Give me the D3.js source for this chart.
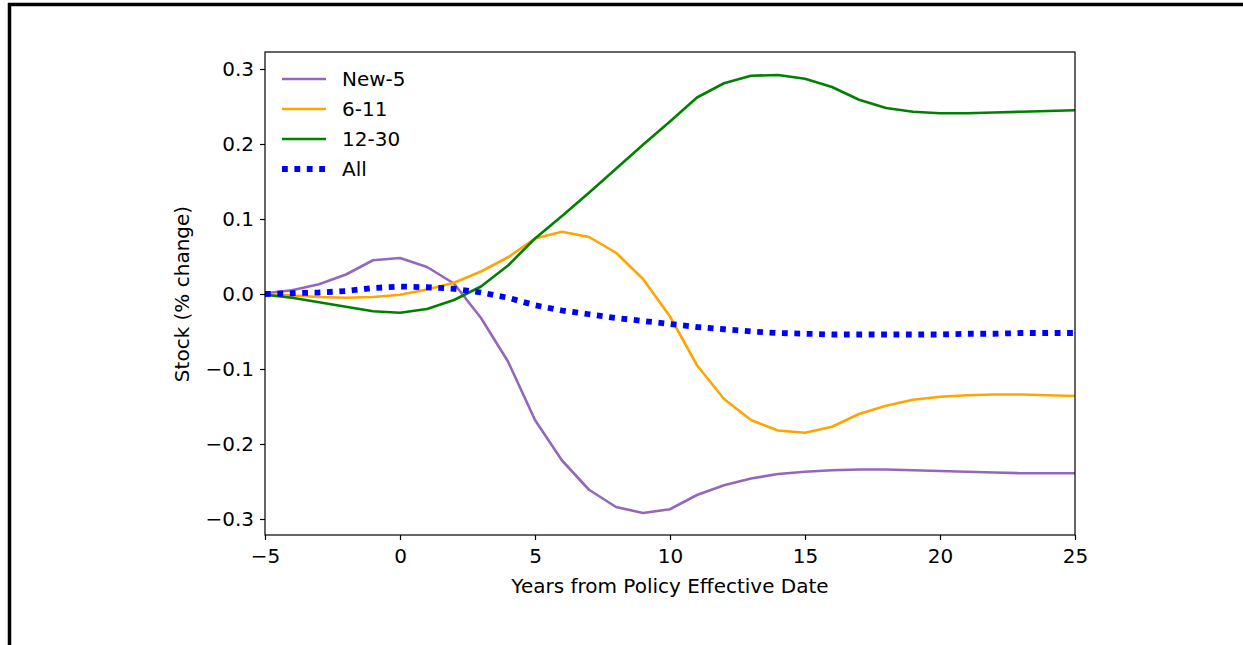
<!DOCTYPE html>
<html>
<head>
<meta charset="utf-8">
<script src="https://cdn.jsdelivr.net/npm/d3@7"></script>
<style>
  html, body { margin: 0; padding: 0; background: #fff; }
  svg { display: block; }
  text { font-family: "DejaVu Sans", sans-serif; }
</style>
</head>
<body>
<svg id="chart" width="1243" height="645"></svg>
<script>
const years = d3.range(-5, 26);
const new5 = [0.001, 0.005, 0.013, 0.026, 0.045, 0.048, 0.036, 0.014, -0.032, -0.090, -0.168, -0.222, -0.261, -0.284, -0.292, -0.287, -0.268, -0.255, -0.246, -0.240, -0.237, -0.235, -0.234, -0.234, -0.235, -0.236, -0.237, -0.238, -0.239, -0.239, -0.239];
const mid611 = [0.000, -0.002, -0.004, -0.005, -0.004, -0.001, 0.006, 0.015, 0.030, 0.049, 0.074, 0.083, 0.076, 0.055, 0.020, -0.030, -0.095, -0.140, -0.168, -0.182, -0.185, -0.177, -0.160, -0.149, -0.141, -0.137, -0.135, -0.134, -0.134, -0.135, -0.136];
const old1230 = [-0.001, -0.005, -0.011, -0.017, -0.023, -0.025, -0.020, -0.008, 0.010, 0.038, 0.074, 0.104, 0.135, 0.167, 0.199, 0.230, 0.262, 0.281, 0.291, 0.292, 0.287, 0.276, 0.259, 0.248, 0.243, 0.241, 0.241, 0.242, 0.243, 0.244, 0.245];
const all = [0.000, 0.001, 0.002, 0.004, 0.008, 0.010, 0.009, 0.007, 0.002, -0.005, -0.015, -0.022, -0.027, -0.032, -0.036, -0.040, -0.044, -0.047, -0.050, -0.052, -0.053, -0.054, -0.054, -0.054, -0.054, -0.054, -0.053, -0.053, -0.052, -0.052, -0.052];
const seriesNames = ["New-5", "6-11", "12-30", "All"];
const seriesColors = ["#9467bd", "#ffa500", "#008000", "#0000ff"];
const xTicks = [-5, 0, 5, 10, 15, 20, 25];
const yTicks = [-0.3, -0.2, -0.1, 0.0, 0.1, 0.2, 0.3];

const seriesData = [new5, mid611, old1230, all];
const FS = "20px";

const svg = d3.select("#chart");
const L = 265, R = 1075, T = 52, B = 535;

// outer frame
svg.append("line").attr("x1", 8).attr("x2", 1243).attr("y1", 4.5).attr("y2", 4.5)
  .attr("stroke", "#000").attr("stroke-width", 3.5);
svg.append("line").attr("x1", 9.5).attr("x2", 9.5).attr("y1", 3).attr("y2", 645)
  .attr("stroke", "#000").attr("stroke-width", 3.5);

const x = d3.scaleLinear().domain([-5, 25]).range([L, R]);
const y = d3.scaleLinear().domain([-0.3, 0.3]).range([519, 69]);

const fmtMinus = s => s.replace("-", "\u2212");

const xAxis = svg.append("g").attr("transform", `translate(0,${B})`)
  .call(d3.axisBottom(x).tickValues(xTicks).tickSize(5).tickPadding(6)
    .tickFormat(d => fmtMinus(d3.format("d")(d))));
const yAxis = svg.append("g").attr("transform", `translate(${L},0)`)
  .call(d3.axisLeft(y).tickValues(yTicks).tickSize(5).tickPadding(6)
    .tickFormat(d => fmtMinus(d3.format(".1f")(d))));
[xAxis, yAxis].forEach(g => {
  g.select(".domain").remove();
  g.selectAll(".tick line").attr("stroke", "#000").attr("stroke-width", 1.2);
  g.selectAll(".tick text").attr("fill", "#000").style("font-size", FS)
    .style("font-family", "DejaVu Sans");
});
xAxis.selectAll(".tick text").attr("dy", "0.85em");

// data lines
svg.append("clipPath").attr("id", "plotclip").append("rect")
  .attr("x", L).attr("y", T).attr("width", R - L).attr("height", B - T);
const line = d3.line().x((d, i) => x(years[i])).y(d => y(d));
const plot = svg.append("g").attr("clip-path", "url(#plotclip)");
seriesData.forEach((s, k) => {
  const p = plot.append("path").datum(s).attr("d", line)
    .attr("fill", "none").attr("stroke", seriesColors[k])
    .attr("stroke-linejoin", "round");
  if (k === 3) {
    p.attr("stroke-width", 5.8).attr("stroke-dasharray", "5.8,6.6").attr("stroke-linecap", "butt");
  } else {
    p.attr("stroke-width", 2.6).attr("stroke-linecap", "square");
  }
});

// spines
svg.append("rect").attr("x", L).attr("y", T).attr("width", R - L).attr("height", B - T)
  .attr("fill", "none").attr("stroke", "#000").attr("stroke-width", 1.2);

// legend
const leg = svg.append("g");
seriesNames.forEach((n, k) => {
  const yy = 79 + k * 30;
  const l = leg.append("line").attr("x1", 282).attr("x2", 326).attr("y1", yy).attr("y2", yy)
    .attr("stroke", seriesColors[k]);
  if (k === 3) l.attr("stroke-width", 5.8).attr("stroke-dasharray", "5.8,6.6");
  else l.attr("stroke-width", 2.6);
  leg.append("text").attr("x", 342).attr("y", yy).attr("dy", "0.35em")
    .style("font-size", FS).attr("fill", "#000").text(n);
});

// axis labels
svg.append("text").attr("x", (L + R) / 2).attr("y", 593).attr("text-anchor", "middle")
  .style("font-size", FS).attr("fill", "#000").text("Years from Policy Effective Date");
svg.append("text").attr("transform", `translate(189,${(69 + 519) / 2}) rotate(-90)`)
  .attr("text-anchor", "middle").style("font-size", FS).attr("fill", "#000")
  .text("Stock (% change)");
</script>
</body>
</html>
